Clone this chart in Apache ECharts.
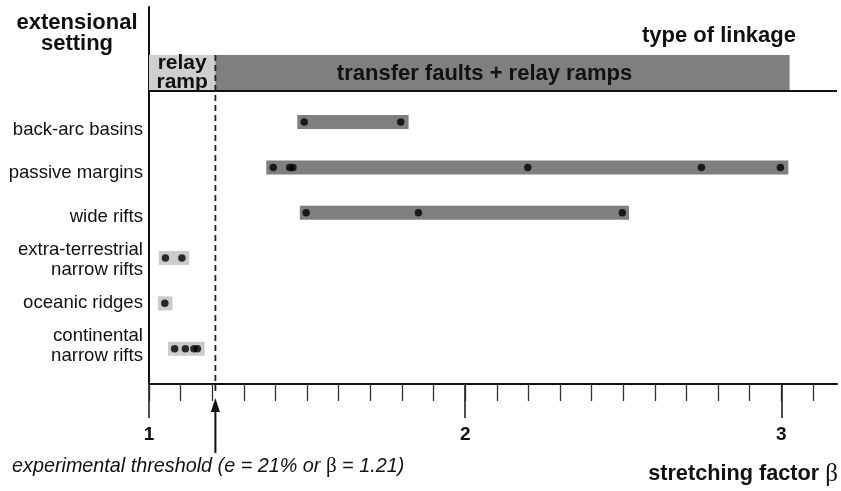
<!DOCTYPE html>
<html><head><meta charset="utf-8">
<script src="https://cdn.jsdelivr.net/npm/echarts@6/dist/echarts.min.js"></script>
<style>html,body{margin:0;padding:0;background:#fff}#c{width:841px;height:491px}</style>
</head><body><div id="c"></div>
<script>
// ---------- data ----------
const settings = ['back-arc basins', 'passive margins', 'wide rifts',
  'extra-terrestrial\nnarrow rifts', 'oceanic ridges', 'continental\nnarrow rifts'];
const rangeMin = [1.469, 1.371, 1.477, 1.031, 1.028, 1.060];
const rangeMax = [1.821, 3.022, 2.518, 1.127, 1.074, 1.176];
const backArcBasins = [1.491, 1.796];
const passiveMargins = [1.393, 1.445, 1.455, 2.198, 2.747, 2.997];
const wideRifts = [1.497, 1.852, 2.497];
const extraTerrestrialNarrowRifts = [1.052, 1.104];
const oceanicRidges = [1.050];
const continentalNarrowRifts = [1.081, 1.115, 1.142, 1.153];
const threshold = 1.21;
const linkageTypes = ['relay\nramp', 'transfer faults + relay ramps'];
const linkageStart = [1.0, 1.21];
const linkageEnd = [1.21, 3.026];
const majorTicks = [1, 2, 3];
const minorTicks = [1.0, 1.1, 1.2, 1.3, 1.4, 1.5, 1.6, 1.7, 1.8, 1.9, 2.0,
  2.1, 2.2, 2.3, 2.4, 2.5, 2.6, 2.7, 2.8, 2.9, 3.0, 3.1];
const xMin = 1, xMax = 3.176;

// ---------- layout / style ----------
const FONT = "'Liberation Sans', Arial, Helvetica, sans-serif";
const SERIF = "'Liberation Serif', 'DejaVu Serif', serif";
const INK = '#111';
const DARK = '#7f7f7f';
const LIGHT = '#cbcbcb';
const BAR_H = 14;
const HEADER_TOP = 55, HEADER_BOTTOM = 91;

const pointSets = [backArcBasins, passiveMargins, wideRifts,
  extraTerrestrialNarrowRifts, oceanicRidges, continentalNarrowRifts];
const pointData = [];
pointSets.forEach((arr, i) => arr.forEach(v => pointData.push([v, i + 1])));
const rangeData = settings.map((s, i) => [rangeMin[i], rangeMax[i], i + 1]);

const chart = echarts.init(document.getElementById('c'), null, {renderer: 'canvas'});
chart.setOption({
  animation: false,
  backgroundColor: '#fff',
  grid: {left: 149, right: 4, top: 7, bottom: 107},
  xAxis: [{
    type: 'value', min: xMin, max: xMax, position: 'bottom',
    axisLine: {show: true, onZero: false, lineStyle: {color: INK, width: 2}},
    axisTick: {show: true, customValues: minorTicks, length: 17, lineStyle: {color: '#333', width: 1.3}},
    axisLabel: {show: false},
    splitLine: {show: false}
  }, {
    type: 'value', min: xMin, max: xMax, position: 'bottom', offset: 0,
    axisLine: {show: false, onZero: false},
    axisTick: {show: true, customValues: majorTicks, length: 34, lineStyle: {color: '#222', width: 1.6}},
    axisLabel: {show: true, customValues: majorTicks, margin: 41, color: INK,
      fontFamily: FONT, fontWeight: 'bold', fontSize: 19},
    splitLine: {show: false}
  }],
  yAxis: {
    type: 'value', inverse: true, min: -1.54, max: 6.78,
    axisLine: {show: true, onZero: false, lineStyle: {color: INK, width: 2}},
    axisTick: {show: false}, axisLabel: {show: false}, splitLine: {show: false}
  },
  graphic: [
    {type: 'text', x: 77, y: 33, style: {text: 'extensional\nsetting', fill: INK,
      font: 'bold 22px ' + FONT, lineHeight: 21, textAlign: 'center', textVerticalAlign: 'middle'}},
    {type: 'text', x: 796, y: 36, style: {text: 'type of linkage', fill: INK,
      font: 'bold 22px ' + FONT, textAlign: 'right', textVerticalAlign: 'middle'}},
    {type: 'text', x: 838, y: 474, style: {
      text: '{a|stretching factor }{b|β}', textAlign: 'right', textVerticalAlign: 'middle',
      rich: {a: {fontFamily: FONT, fontWeight: 'bold', fontSize: 21.7, fill: INK, color: INK},
             b: {fontFamily: SERIF, fontSize: 25, fill: INK, color: INK}}}},
    {type: 'text', x: 12, y: 466, style: {
      text: '{a|experimental threshold (e = 21% or }{b|β}{a| = 1.21)}', textAlign: 'left', textVerticalAlign: 'middle',
      rich: {a: {fontFamily: FONT, fontStyle: 'italic', fontSize: 19.8, fill: INK, color: INK},
             b: {fontFamily: SERIF, fontSize: 21, fill: INK, color: INK}}}}
  ],
  series: [
    { // header boxes: type of linkage
      type: 'custom', name: 'linkage', coordinateSystem: 'cartesian2d', clip: false, z: 2,
      data: linkageTypes.map((t, i) => [linkageStart[i], linkageEnd[i]]),
      encode: {x: [0, 1]},
      renderItem: function (params, api) {
        const i = params.dataIndex;
        const x0 = api.coord([api.value(0), 0])[0];
        const x1 = api.coord([api.value(1), 0])[0];
        const cx = (x0 + x1) / 2 + (i === 1 ? -18 : 0);
        return {type: 'group', children: [
          {type: 'rect', shape: {x: x0, y: HEADER_TOP, width: x1 - x0, height: HEADER_BOTTOM - HEADER_TOP},
            style: {fill: i === 0 ? '#cfcfcf' : DARK}},
          {type: 'text', style: {text: linkageTypes[i], x: cx, y: (HEADER_TOP + HEADER_BOTTOM) / 2 + (i === 0 ? 0 : 1),
            textAlign: 'center', textVerticalAlign: 'middle', fill: INK,
            font: 'bold ' + (i === 0 ? 21 : 22) + 'px ' + FONT, lineHeight: 19}}
        ]};
      }
    },
    { // range bars
      type: 'custom', name: 'ranges', coordinateSystem: 'cartesian2d', clip: false, z: 2,
      data: rangeData, encode: {x: [0, 1], y: 2},
      renderItem: function (params, api) {
        const p0 = api.coord([api.value(0), api.value(2)]);
        const p1 = api.coord([api.value(1), api.value(2)]);
        return {type: 'rect', shape: {x: p0[0], y: p0[1] - BAR_H / 2, width: p1[0] - p0[0], height: BAR_H},
          style: {fill: api.value(1) < threshold ? LIGHT : DARK}};
      }
    },
    { // data points
      type: 'scatter', name: 'observations', data: pointData, symbol: 'circle', symbolSize: 7.5,
      itemStyle: {color: '#000'}, z: 3
    },
    { // row labels
      type: 'custom', name: 'settings', coordinateSystem: 'cartesian2d', clip: false, z: 3,
      data: settings.map((s, i) => [xMin, i + 1]), encode: {x: 0, y: 1},
      renderItem: function (params, api) {
        const i = params.dataIndex;
        const cs = params.coordSys;
        return {type: 'text', style: {text: settings[i], x: cs.x - 6, y: cs.y + 123 + i * 43.2,
          textAlign: 'right', textVerticalAlign: 'middle', fill: INK, font: '18.6px ' + FONT, lineHeight: 20}};
      }
    },
    { // threshold line, header separator, arrow
      type: 'custom', name: 'threshold', coordinateSystem: 'cartesian2d', clip: false, z: 4,
      data: [[threshold, 0]], encode: {x: 0},
      renderItem: function (params, api) {
        const cs = params.coordSys;
        const x = api.coord([api.value(0), 0])[0];
        const axisY = cs.y + cs.height;
        return {type: 'group', children: [
          {type: 'line', shape: {x1: cs.x, y1: HEADER_BOTTOM, x2: cs.x + cs.width, y2: HEADER_BOTTOM},
            style: {stroke: INK, lineWidth: 2}},
          {type: 'line', shape: {x1: x, y1: HEADER_TOP, x2: x, y2: axisY + 7},
            style: {stroke: '#222', lineWidth: 1.8, lineDash: [6, 4]}},
          {type: 'polygon', shape: {points: [[x, axisY + 14], [x - 4.5, axisY + 28], [x + 4.5, axisY + 28]]},
            style: {fill: INK}},
          {type: 'line', shape: {x1: x, y1: axisY + 24, x2: x, y2: axisY + 69},
            style: {stroke: INK, lineWidth: 2}}
        ]};
      }
    }
  ]
});
</script>
</body></html>
